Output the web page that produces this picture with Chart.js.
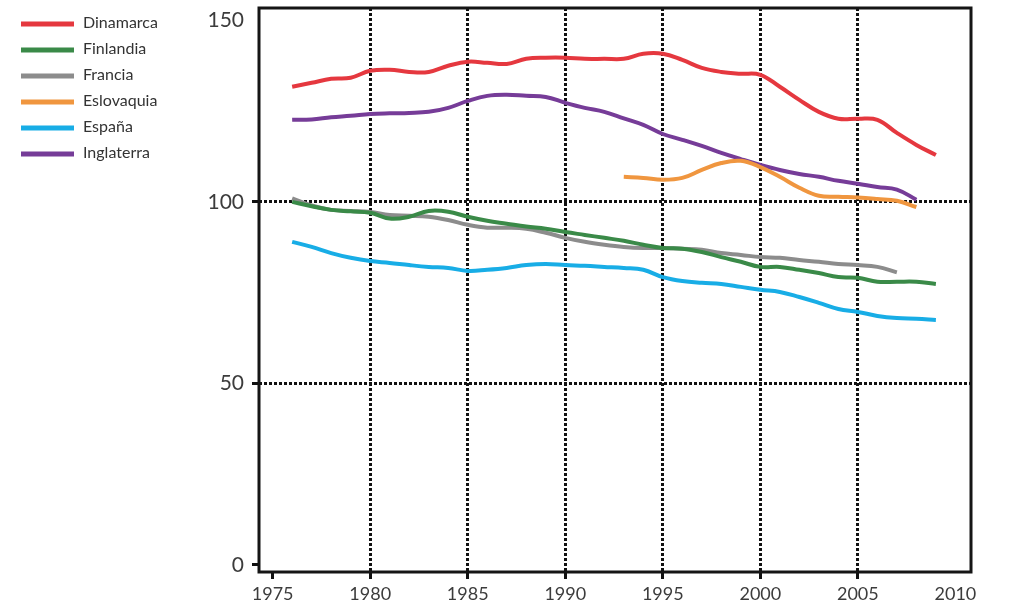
<!DOCTYPE html>
<html>
<head>
<meta charset="utf-8">
<script src="https://cdn.jsdelivr.net/npm/chart.js@4/dist/chart.umd.min.js"></script>
<style>
  body { margin: 0; background: #fff; }
  canvas { display: block; }
</style>
</head>
<body>
<canvas id="chart" width="1012" height="608"></canvas>
<script>
// years on the x axis
const years = [1976, 1977, 1978, 1979, 1980, 1981, 1982, 1983, 1984, 1985,
  1986, 1987, 1988, 1989, 1990, 1991, 1992, 1993, 1994, 1995,
  1996, 1997, 1998, 1999, 2000, 2001, 2002, 2003, 2004, 2005,
  2006, 2007, 2008, 2009];

const xTicks = [1975, 1980, 1985, 1990, 1995, 2000, 2005, 2010];
const yTicks = [0, 50, 100, 150];

// series values (null = no data)
const dinamarca = [131.7, 132.8, 133.9, 134.2, 136.1, 136.4, 135.8, 135.8, 137.5, 138.6,
  138.3, 138.0, 139.4, 139.7, 139.7, 139.4, 139.4, 139.4, 140.8, 140.8,
  139.1, 136.9, 135.8, 135.3, 135.0, 131.7, 128.1, 124.8, 122.9, 122.9,
  122.6, 119.0, 115.7, 112.9];

const finlandia = [100.0, 98.8, 97.8, 97.4, 97.0, 95.4, 95.9, 97.5, 97.3, 95.9,
  94.8, 94.0, 93.2, 92.6, 91.7, 90.9, 90.1, 89.3, 88.2, 87.3,
  87.1, 86.2, 84.8, 83.5, 82.1, 82.1, 81.3, 80.4, 79.3, 79.1,
  78.0, 78.0, 78.0, 77.4];

const francia = [101.0, 99.0, 97.8, 97.5, 97.2, 96.4, 96.2, 95.9, 95.0, 93.7,
  92.9, 92.9, 92.6, 91.5, 90.1, 89.0, 88.2, 87.6, 87.3, 87.3,
  87.1, 86.8, 85.9, 85.4, 84.8, 84.6, 84.0, 83.5, 82.9, 82.6,
  82.1, 80.6, null, null];

const eslovaquia = [null, null, null, null, null, null, null, null, null, null,
  null, null, null, null, null, null, null, 106.9, 106.6, 106.1,
  106.6, 108.8, 110.7, 111.3, 109.6, 106.9, 103.9, 101.7, 101.4, 101.2,
  100.8, 100.3, 98.6, null];

const espana = [89.0, 87.6, 85.9, 84.6, 83.7, 83.2, 82.6, 82.1, 81.8, 81.0,
  81.3, 81.8, 82.6, 82.9, 82.6, 82.4, 82.1, 81.8, 81.3, 79.3,
  78.2, 77.7, 77.4, 76.6, 75.8, 75.2, 73.8, 72.2, 70.5, 69.7,
  68.6, 68.0, 67.8, 67.5];

const inglaterra = [122.6, 122.7, 123.3, 123.7, 124.2, 124.4, 124.5, 124.8, 125.9, 127.8,
  129.2, 129.5, 129.2, 128.9, 127.3, 125.9, 124.8, 123.0, 121.2, 118.7,
  117.1, 115.4, 113.5, 111.8, 110.2, 108.8, 107.7, 106.9, 105.8, 105.0,
  104.1, 103.4, 100.6, null];

const seriesNames = ["Dinamarca", "Finlandia", "Francia", "Eslovaquia", "España", "Inglaterra"];
const seriesColors = ["#e5383f", "#3a8a48", "#8c8c8c", "#f0963f", "#18ade6", "#763c98"];
const seriesValues = [dinamarca, finlandia, francia, eslovaquia, espana, inglaterra];

function toPoints(values) {
  const pts = [];
  values.forEach((v, i) => {
    if (v !== null) pts.push({ x: years[i], y: v });
  });
  return pts;
}

const datasets = seriesNames.map((name, i) => ({
  label: name,
  data: toPoints(seriesValues[i]),
  borderColor: seriesColors[i],
  backgroundColor: seriesColors[i],
  borderWidth: 4,
  pointRadius: 0,
  tension: 0.4,
  fill: false
}));

// frame round the plot area
const framePlugin = {
  id: "frame",
  afterDraw(chart) {
    const a = chart.chartArea;
    const ctx = chart.ctx;
    ctx.save();
    ctx.strokeStyle = "#151515";
    ctx.lineWidth = 3;
    ctx.setLineDash([]);
    ctx.strokeRect(a.left, a.top, a.right - a.left, a.bottom - a.top);
    ctx.restore();
  }
};

// legend down the left side
const sideLegend = {
  id: "sideLegend",
  afterDraw(chart) {
    const ctx = chart.ctx;
    ctx.save();
    ctx.font = "16px Lato, 'Open Sans', sans-serif";
    ctx.textBaseline = "middle";
    chart.data.datasets.forEach((ds, i) => {
      const y = 24 + i * 26;
      ctx.strokeStyle = ds.borderColor;
      ctx.lineWidth = 5;
      ctx.beginPath();
      ctx.moveTo(21, y);
      ctx.lineTo(74, y);
      ctx.stroke();
      ctx.fillStyle = "#333";
      ctx.fillText(ds.label, 83, y - 1);
    });
    ctx.restore();
  }
};

const gridColor = "#111";
const none = "rgba(0,0,0,0)";

new Chart(document.getElementById("chart"), {
  type: "line",
  data: { datasets: datasets },
  options: {
    responsive: false,
    devicePixelRatio: 1,
    animation: false,
    layout: { padding: { left: 0, top: 8, right: 41, bottom: 0 } },
    plugins: {
      legend: { display: false },
      tooltip: { enabled: false }
    },
    scales: {
      x: {
        type: "linear",
        min: 1974.3,
        max: 2010.8,
        afterBuildTicks: scale => { scale.ticks = xTicks.map(v => ({ value: v })); },
        afterFit: scale => { scale.height = 36; scale.paddingLeft = 0; scale.paddingRight = 0; },
        border: { display: false, dash: [3, 2] },
        grid: {
          color: c => (c.tick && (c.tick.value === 1975 || c.tick.value === 2010)) ? none : gridColor,
          tickColor: c => (c.tick && c.tick.value === 2010) ? none : gridColor,
          lineWidth: 3,
          tickWidth: 3,
          tickLength: 7
        },
        ticks: {
          padding: 4,
          maxRotation: 0,
          autoSkip: false,
          color: "#3c3c3c",
          font: { family: "Lato, 'Open Sans', sans-serif", size: 18 },
          callback: v => String(v)
        }
      },
      y: {
        min: -1.93,
        max: 153.4,
        afterBuildTicks: scale => { scale.ticks = yTicks.map(v => ({ value: v })); },
        afterFit: scale => { scale.width = 259; scale.paddingTop = 0; scale.paddingBottom = 0; },
        border: { display: false, dash: [3, 2] },
        grid: {
          color: c => (c.tick && (c.tick.value === 0 || c.tick.value === 150)) ? none : gridColor,
          tickColor: c => (c.tick && c.tick.value === 150) ? none : gridColor,
          lineWidth: 3,
          tickWidth: 3,
          tickLength: 7
        },
        ticks: {
          padding: 8,
          color: "#3c3c3c",
          font: { family: "Lato, 'Open Sans', sans-serif", size: 21 },
          callback: v => String(v)
        }
      }
    }
  },
  plugins: [framePlugin, sideLegend]
});
</script>
</body>
</html>
